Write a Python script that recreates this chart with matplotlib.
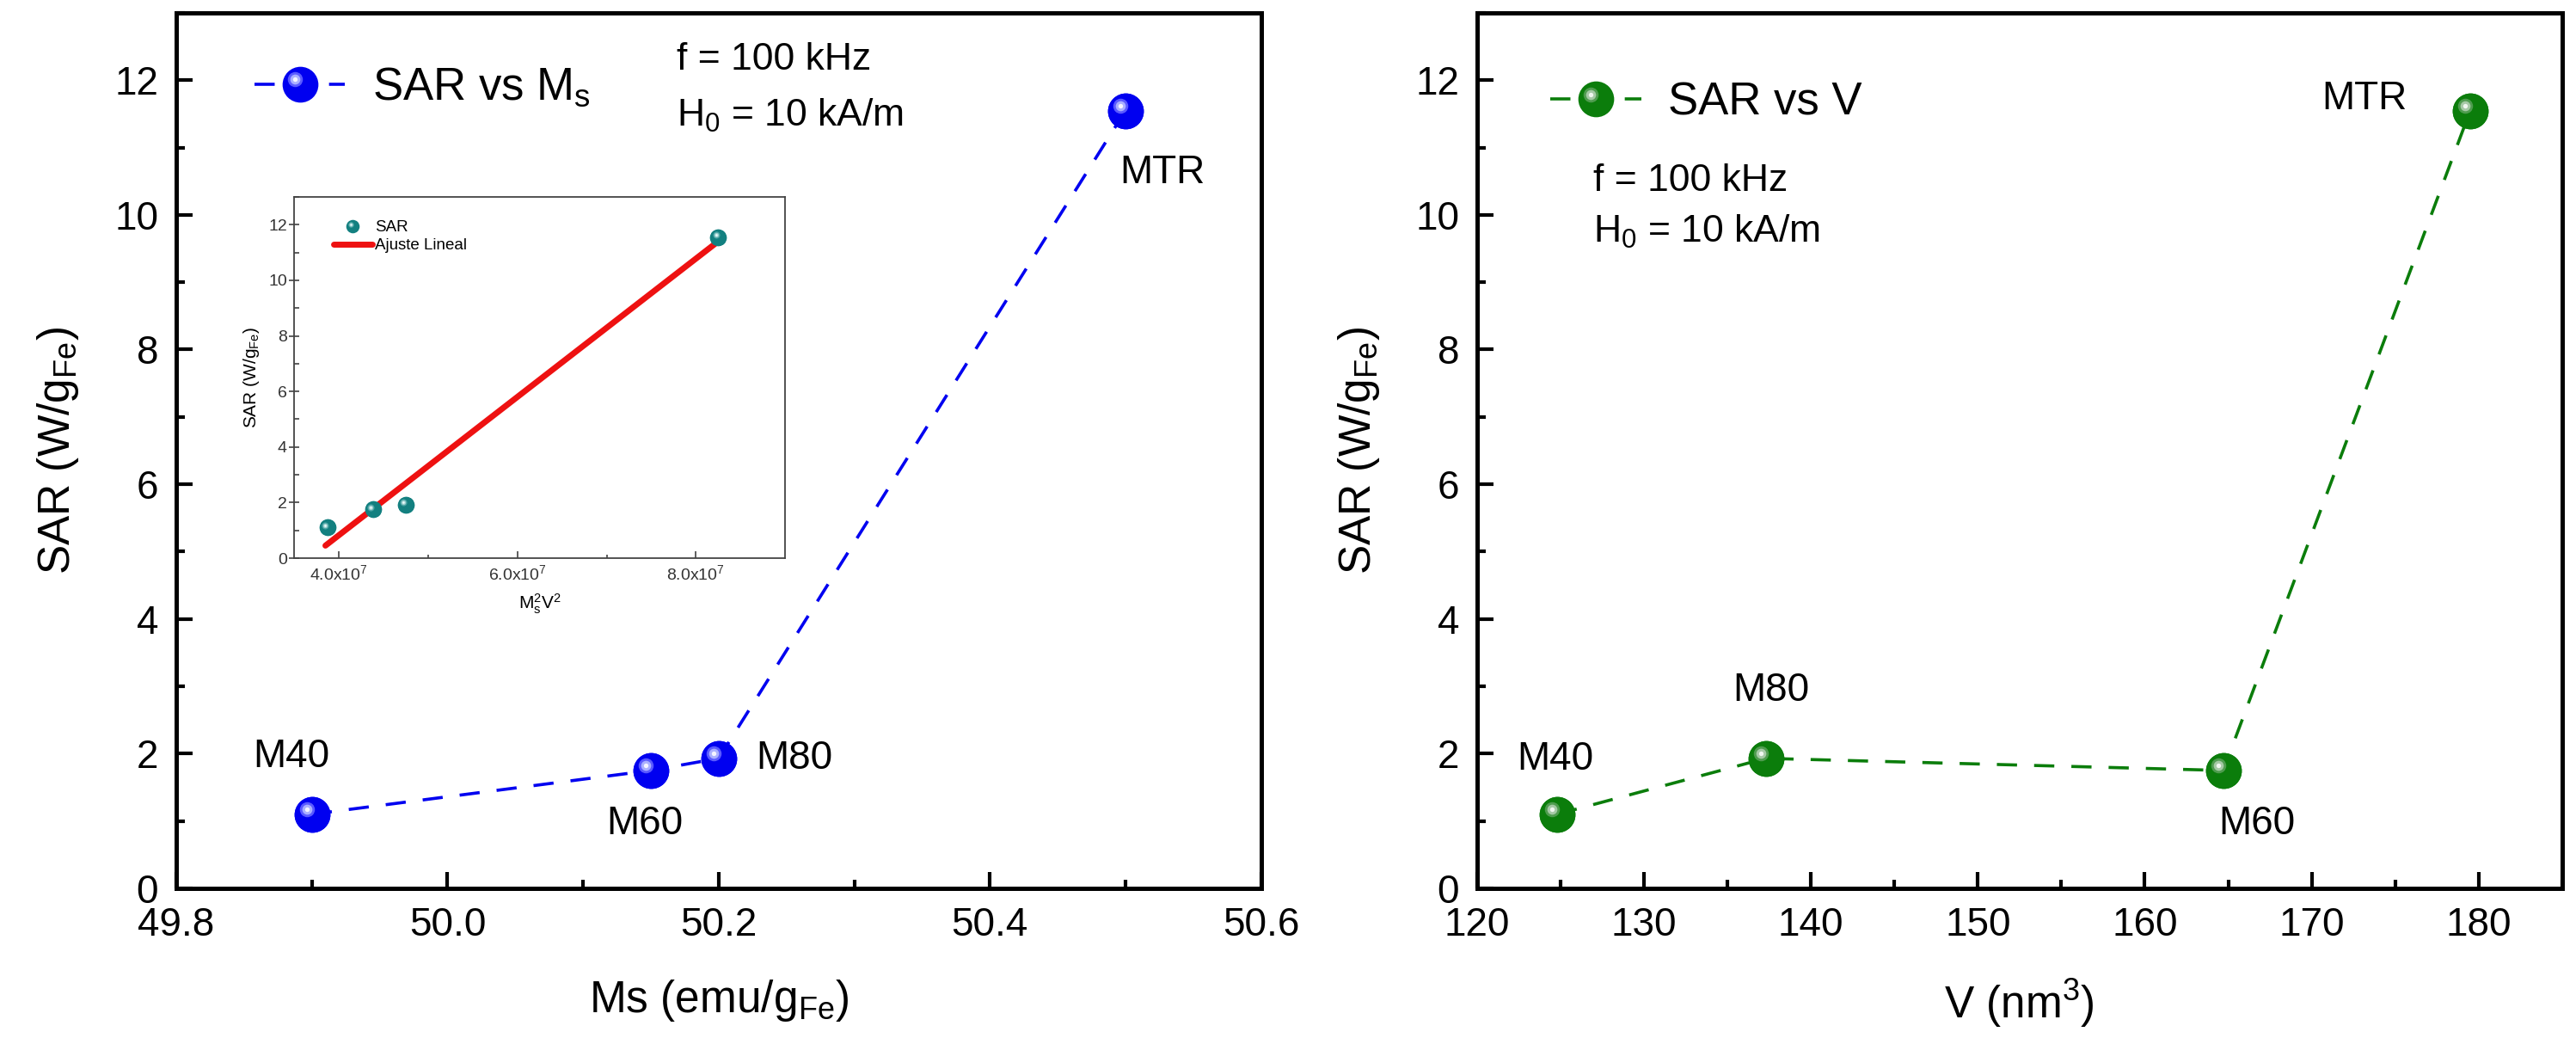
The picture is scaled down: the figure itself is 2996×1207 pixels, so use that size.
import numpy as np
import matplotlib
matplotlib.use("Agg")
import matplotlib.pyplot as plt
from matplotlib.lines import Line2D
from matplotlib.legend_handler import HandlerLine2D
from matplotlib.transforms import ScaledTranslation
from matplotlib.ticker import MultipleLocator, FormatStrFormatter, FixedLocator

plt.rcParams['font.family'] = ['Liberation Sans', 'DejaVu Sans']
plt.rcParams['mathtext.fontset'] = 'custom'
plt.rcParams['mathtext.rm'] = 'Liberation Sans'
plt.rcParams['mathtext.it'] = 'Liberation Sans:italic'

# muestras
samples_ms = ["M40", "M60", "M80", "MTR"]
ms_vals = [49.90, 50.15, 50.20, 50.50]          # emu/gFe
sar_ms = [1.10, 1.75, 1.93, 11.55]              # W/gFe

samples_v = ["M40", "M80", "M60", "MTR"]
v_vals = [124.8, 137.3, 164.7, 179.5]           # nm^3
sar_v = [1.10, 1.93, 1.75, 11.55]

# inset: SAR vs Ms^2 V^2 y ajuste lineal
ms2v2 = [3.87e7, 4.38e7, 4.75e7, 8.25e7]
sar_inset = [1.10, 1.75, 1.93, 11.55]
fit_x = [3.85e7, 8.25e7]
fit_y = [0.45, 11.40]

fig = plt.figure(figsize=(29.96, 12.07), dpi=100)

BLUE = ['#0000f0', '#5a5aff', '#aab0ff', '#f4f4ff']
GREEN = ['#0b7d0b', '#4f9c4f', '#a6c9a6', '#f0f6f0']
TEAL = ['#138080', '#4aa3a3', '#9fd0d0', '#f0ffff']
HL = [(0.42, 1), (0.28, 2), (0.13, 3)]


def draw_balls(ax, x, y, cols, ms, z=4):
    ax.plot(x, y, ls='none', marker='o', ms=ms, color=cols[0], mew=0, zorder=z)
    off = ms * 0.14 / 72
    tr = ax.transData + ScaledTranslation(-off, off, fig.dpi_scale_trans)
    for k, (frac, ci) in enumerate(HL):
        ax.plot(x, y, ls='none', marker='o', ms=ms * frac, color=cols[ci],
                mew=0, transform=tr, zorder=z + 0.1 * (k + 1))


class BallHandler(HandlerLine2D):
    """Handle de leyenda con brillo sobre el marcador central."""

    def __init__(self, cols, **kw):
        super().__init__(**kw)
        self.cols = cols

    def create_artists(self, legend, orig_handle, xdescent, ydescent,
                       width, height, fontsize, trans):
        arts = super().create_artists(legend, orig_handle, xdescent, ydescent,
                                      width, height, fontsize, trans)
        line = arts[0]
        xd, yd = line.get_data()
        xc = [np.mean(xd)]
        yc = [np.mean(yd)]
        ms = line.get_markersize()
        off = ms * 0.14 / 72
        tr = trans + ScaledTranslation(-off, off, fig.dpi_scale_trans)
        for frac, ci in HL:
            l = Line2D(xc, yc, ls='none', marker='o', ms=ms * frac,
                       color=self.cols[ci], mew=0)
            l.set_transform(tr)
            arts.append(l)
        return arts


def style_main(ax):
    for s in ax.spines.values():
        s.set_linewidth(3.6)
    ax.tick_params(which='both', direction='in', top=False, right=False,
                   width=3, labelsize=33, pad=15)
    ax.tick_params(which='major', length=14)
    ax.tick_params(which='minor', length=7)
    ax.set_ylim(0, 13)
    ax.yaxis.set_major_locator(MultipleLocator(2))
    ax.yaxis.set_minor_locator(MultipleLocator(1))
    ax.set_ylabel(r'SAR (W/g$\mathregular{_{Fe}}$)', fontsize=37, labelpad=28)


def point_labels(ax, xs, ys, names, offsets):
    for x, y, n, (dx, dy, ha) in zip(xs, ys, names, offsets):
        ax.annotate(n, (x, y), xytext=(dx, dy), textcoords='offset points',
                    ha=ha, va='center', fontsize=33, zorder=6)


# ---- panel izquierdo: SAR vs Ms ----
ax1 = fig.add_axes([0.0684, 0.1442, 0.4212, 0.8434])
style_main(ax1)
ax1.set_xlim(49.8, 50.6)
ax1.xaxis.set_major_locator(MultipleLocator(0.2))
ax1.xaxis.set_minor_locator(MultipleLocator(0.1))
ax1.xaxis.set_major_formatter(FormatStrFormatter('%.1f'))
ax1.set_xlabel(r'Ms (emu/g$\mathregular{_{Fe}}$)', fontsize=37, labelpad=28)

h1, = ax1.plot(ms_vals, sar_ms, ls='--', dashes=(6.5, 5.5), lw=2.6, color=BLUE[0],
               marker='o', ms=30, mew=0, zorder=3)
draw_balls(ax1, ms_vals, sar_ms, BLUE, 30)
point_labels(ax1, ms_vals, sar_ms, samples_ms,
             [(-17, 48, 'center'), (-5, -45, 'center'), (31, 0, 'left'), (-5, -52, 'left')])
ax1.legend([h1], [r'SAR vs M$\mathregular{_s}$'], loc='center left',
           bbox_to_anchor=(0.072, 0.9145), frameon=False, fontsize=38,
           borderpad=0, borderaxespad=0, handlelength=2.0, handletextpad=0.6,
           numpoints=1, handler_map={h1: BallHandler(BLUE)})
ax1.text(0.461, 0.946, 'f = 100 kHz', transform=ax1.transAxes, fontsize=32,
         ha='left', va='center')
ax1.text(0.461, 0.883, r'H$\mathregular{_0}$ = 10 kA/m', transform=ax1.transAxes,
         fontsize=32, ha='left', va='center')

# ---- panel derecho: SAR vs V ----
ax2 = fig.add_axes([0.5734, 0.1442, 0.4212, 0.8434])
style_main(ax2)
ax2.set_xlim(120, 185)
ax2.xaxis.set_major_locator(MultipleLocator(10))
ax2.xaxis.set_minor_locator(MultipleLocator(5))
ax2.set_xlabel(r'V (nm$\mathregular{^3}$)', fontsize=37, labelpad=28)

h2, = ax2.plot(v_vals, sar_v, ls='--', dashes=(6.5, 5.5), lw=2.6, color=GREEN[0],
               marker='o', ms=30, mew=0, zorder=3)
draw_balls(ax2, v_vals, sar_v, GREEN, 30)
point_labels(ax2, v_vals, sar_v, samples_v,
             [(-2, 46, 'center'), (4, 57, 'center'), (28, -45, 'center'), (-89, 10, 'center')])
ax2.legend([h2], ['SAR vs V'], loc='center left',
           bbox_to_anchor=(0.0674, 0.897), frameon=False, fontsize=38,
           borderpad=0, borderaxespad=0, handlelength=2.0, handletextpad=0.6,
           numpoints=1, handler_map={h2: BallHandler(GREEN)})
ax2.text(0.107, 0.808, 'f = 100 kHz', transform=ax2.transAxes, fontsize=32,
         ha='left', va='center')
ax2.text(0.107, 0.750, r'H$\mathregular{_0}$ = 10 kA/m', transform=ax2.transAxes,
         fontsize=32, ha='left', va='center')

# ---- inset ----
axi = fig.add_axes([0.1142, 0.4623, 0.1906, 0.348])
axi.set_zorder(10)
for s in axi.spines.values():
    s.set_linewidth(1.3)
    s.set_color('#444444')
axi.tick_params(which='both', top=False, right=False, colors='#333333',
                labelsize=14, width=1.1)
axi.tick_params(axis='y', which='major', direction='inout', length=8, pad=2)
axi.tick_params(axis='y', which='minor', direction='in', length=4)
axi.tick_params(axis='x', which='major', direction='in', length=6, pad=5)
axi.tick_params(axis='x', which='minor', direction='in', length=3)
axi.set_xlim(3.5e7, 9.0e7)
axi.set_ylim(0, 13)
axi.xaxis.set_major_locator(FixedLocator([4e7, 6e7, 8e7]))
axi.xaxis.set_minor_locator(FixedLocator([5e7, 7e7]))
axi.set_xticklabels([r'4.0x10$\mathregular{^7}$', r'6.0x10$\mathregular{^7}$',
                     r'8.0x10$\mathregular{^7}$'])
axi.yaxis.set_major_locator(MultipleLocator(2))
axi.yaxis.set_minor_locator(MultipleLocator(1))
axi.set_ylabel(r'SAR (W/g$\mathregular{_{Fe}}$)', fontsize=15, labelpad=6)
axi.set_xlabel(r'M$\mathregular{_s^2}$V$\mathregular{^2}$', fontsize=15, labelpad=8)

hf, = axi.plot(fit_x, fit_y, color='#ee1111', lw=5, solid_capstyle='round', zorder=3)
hs, = axi.plot(ms2v2, sar_inset, ls='none', marker='o', ms=14, mew=0, color=TEAL[0], zorder=4)
draw_balls(axi, ms2v2, sar_inset, TEAL, 14, z=4)
axi.legend([hs, hf], ['SAR', 'Ajuste Lineal'], loc='upper left',
           bbox_to_anchor=(0.08, 0.935), frameon=False, fontsize=13.5,
           borderpad=0, borderaxespad=0, handlelength=2.4, handletextpad=0.15,
           labelspacing=0.2, markerscale=0.8, numpoints=1,
           handler_map={hs: BallHandler(TEAL)})

fig.savefig('out.png', dpi=100)
